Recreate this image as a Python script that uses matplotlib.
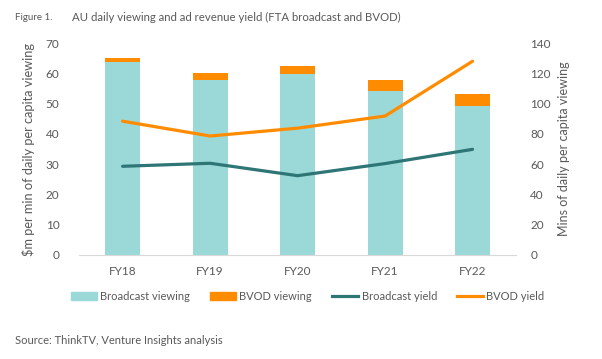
import matplotlib.pyplot as plt
from matplotlib.patches import Patch
from matplotlib.lines import Line2D

plt.rcParams['font.family'] = ['Lato', 'DejaVu Sans']

years = ["FY18", "FY19", "FY20", "FY21", "FY22"]
broadcast_viewing = [127.6, 115.6, 119.5, 108.3, 98.4]
bvod_viewing = [2.5, 4.6, 5.3, 7.3, 7.9]
broadcast_yield = [29.3, 30.3, 26.2, 30.2, 34.9]
bvod_yield = [44.2, 39.3, 41.9, 45.9, 64.0]

TEAL = '#9bd9d9'
ORANGE = '#ff8b00'
DARK_TEAL = '#2e7575'
GREY = '#595959'

fig = plt.figure(figsize=(6.02, 3.59), dpi=100)
ax = fig.add_axes([0.131, 0.2897, 0.7266, 0.5903])
ax2 = ax.twinx()

x = list(range(len(years)))
ax2.bar(x, broadcast_viewing, width=0.4, color=TEAL)
ax2.bar(x, bvod_viewing, width=0.4, bottom=broadcast_viewing, color=ORANGE)

ax.plot(x, broadcast_yield, color=DARK_TEAL, linewidth=2.3, solid_capstyle='round')
ax.plot(x, bvod_yield, color=ORANGE, linewidth=2.3, solid_capstyle='round')

# lines above the bars
ax.set_zorder(ax2.get_zorder() + 1)
ax.patch.set_visible(False)

ax.set_xlim(-0.5, 4.5)
ax.set_ylim(0, 70)
ax.set_yticks(range(0, 71, 10))
ax2.set_ylim(0, 140)
ax2.set_yticks(range(0, 141, 20))
ax.set_xticks(x)
ax.set_xticklabels(years)

for a in (ax, ax2):
    for s in a.spines.values():
        s.set_visible(False)
    a.tick_params(length=0, colors=GREY, labelsize=8.5)
ax.spines['bottom'].set_visible(True)
ax.spines['bottom'].set_color('#d9d9d9')
ax.tick_params(axis='y', pad=14)
ax.tick_params(axis='x', pad=8)
ax2.tick_params(axis='y', pad=10)

ax.set_ylabel("$m per min of daily per capita viewing", color=GREY, fontsize=9.2, labelpad=8)
ax2.set_ylabel("Mins of daily per capita viewing", color=GREY, fontsize=9, labelpad=5)

fig.text(0.025, 0.95, "Figure 1.", color=GREY, fontsize=7, va='center')
fig.text(0.12, 0.95, "AU daily viewing and ad revenue yield (FTA broadcast and BVOD)",
         color=GREY, fontsize=8.2, va='center')
fig.text(0.025, 0.052, "Source: ThinkTV, Venture Insights analysis", color=GREY, fontsize=8, va='center')

handles = [
    Patch(color=TEAL, label="Broadcast viewing"),
    Patch(color=ORANGE, label="BVOD viewing"),
    Line2D([], [], color=DARK_TEAL, linewidth=2.3, label="Broadcast yield"),
    Line2D([], [], color=ORANGE, linewidth=2.3, label="BVOD yield"),
]
leg = fig.legend(handles=handles, loc='center', bbox_to_anchor=(0.511, 0.174), ncol=4,
                 frameon=False, fontsize=8, handlelength=2.35, handleheight=0.7,
                 handletextpad=0.3, columnspacing=1.8)
for t in leg.get_texts():
    t.set_color(GREY)

fig.savefig("out.png", dpi=100)
